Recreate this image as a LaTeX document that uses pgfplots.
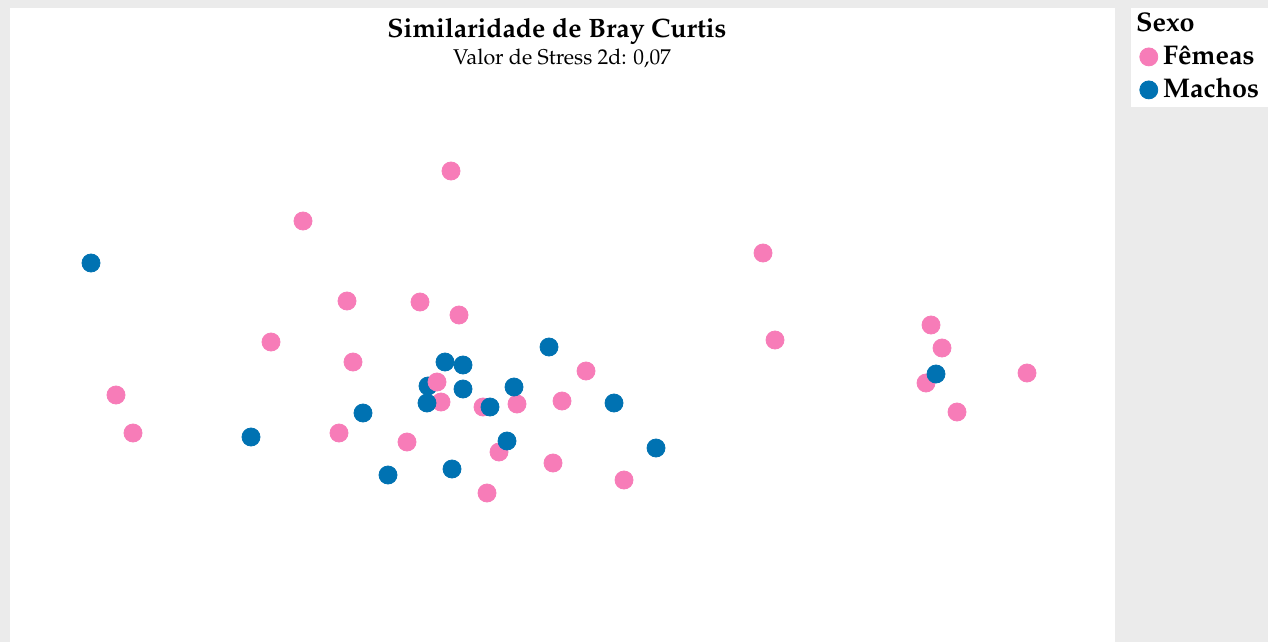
\documentclass[border=0pt]{standalone}
\usepackage[T1]{fontenc}
\usepackage{mathpazo}
\usepackage{pgfplots}
\pgfplotsset{compat=1.18}
\definecolor{bgGray}{RGB}{235,235,235}
\definecolor{fem}{RGB}{247,124,184}
\definecolor{mac}{RGB}{0,114,178}
\begin{document}
\begin{tikzpicture}[x=1pt,y=1pt]
\fill[bgGray] (0,0) rectangle (634,321);
\fill[white] (5,0) rectangle (557.5,317);
\fill[white] (565.5,267.5) rectangle (634,317);
\begin{axis}[
  at={(5pt,0pt)}, anchor=south west,
  scale only axis, width=552.5pt, height=317pt,
  xmin=10, xmax=1115, ymin=8, ymax=642, y dir=reverse,
  axis lines=none, ticks=none, clip=false,
  legend style={at={(axis cs:1139,11)}, anchor=north west, fill=none, draw=none,
    font=\bfseries\fontsize{13.5}{15}\selectfont, inner sep=0pt,
    nodes={text height=9.5pt, text depth=3pt, inner sep=0.5pt},
    row sep=3pt, column sep=2pt},
  legend cell align=left,
  legend image code/.code={\fill[#1] (4.5pt,0.5pt) circle (4.5pt);},
]
\addlegendimage{empty legend}
\addlegendentry{\hspace{-13.5pt}Sexo}
\addplot[only marks, mark=*, mark size=4.5pt, color=fem, mark options={draw=none, fill=fem}] coordinates {
(451,171) (303,221) (763,253) (347,301) (420,302) (459,315) (271,342) (775,340)
(931,325) (942,348) (353,362) (586,371) (1027,373) (926,383) (116,395)
(441,402) (483,407) (517,404) (562,401) (957,412) (133,433) (339,433)
(407,442) (499,452) (553,463) (624,480) (487,493)
};
\addlegendentry{F\^emeas}
\addplot[only marks, mark=*, mark size=4.5pt, color=mac, mark options={draw=none, fill=mac}] coordinates {
(91,263) (549,347) (445,362) (463,365) (428,386) (463,389) (514,387) (427,403)
(490,407) (614,403) (363,413) (251,437) (507,441) (656,448) (388,475) (452,469)
(936,374)
};
\addlegendentry{Machos}
\addplot[only marks, mark=*, mark size=4.5pt, color=fem, mark options={draw=none, fill=fem}, forget plot] coordinates {
(437,382)
};
\node[font=\bfseries\fontsize{13.3}{15}\selectfont] at (axis cs:557,31) {Similaridade de Bray Curtis};
\node[font=\fontsize{10.7}{12}\selectfont] at (axis cs:562,59) {Valor de Stress 2d: 0,07};
\end{axis}
\end{tikzpicture}
\end{document}
